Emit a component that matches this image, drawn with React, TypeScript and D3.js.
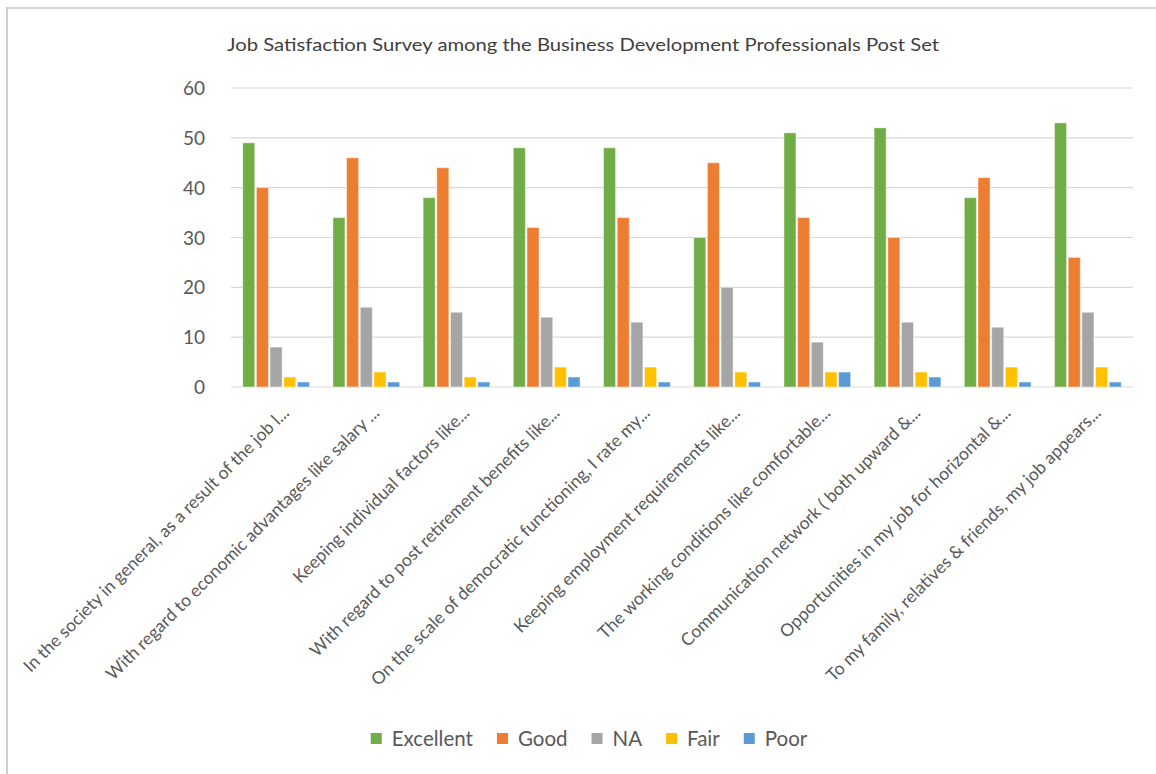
import React, { useEffect, useRef } from "react";
import * as d3 from "d3";

const categories = [
  "In the society in general, as a result of the job l...",
  "With regard to economic advantages like salary ...",
  "Keeping individual factors like...",
  "With regard to post retirement benefits like...",
  "On the scale of democratic functioning, I rate my...",
  "Keeping employment requirements like...",
  "The working conditions like comfortable...",
  "Communication network ( both upward &...",
  "Opportunities in my job for horizontal &...",
  "To my family, relatives & friends, my job appears...",
];
const seriesNames = ["Excellent", "Good", "NA", "Fair", "Poor"];
const seriesColors = ["#70AD47", "#ED7D31", "#A5A5A5", "#FFC000", "#5B9BD5"];
const excellent = [49, 34, 38, 48, 48, 30, 51, 52, 38, 53];
const good = [40, 46, 44, 32, 34, 45, 34, 30, 42, 26];
const na = [8, 16, 15, 14, 13, 20, 9, 13, 12, 15];
const fair = [2, 3, 2, 4, 4, 3, 3, 3, 4, 4];
const poor = [1, 1, 1, 2, 1, 1, 3, 2, 1, 1];
const yTicks = [0, 10, 20, 30, 40, 50, 60];
const title = "Job Satisfaction Survey among the Business Development Professionals Post Set";

const W = 1156;
const H = 774;

export default function App() {
  const ref = useRef<SVGSVGElement | null>(null);
  useEffect(() => {
    const svg = d3.select(ref.current);
    svg.selectAll("*").remove();
    const series = [excellent, good, na, fair, poor];
    const left = 231, right = 1133, top = 88, bottom = 387;
    const font = "Lato, 'Open Sans', sans-serif";

    // frame
    svg.append("rect").attr("width", W).attr("height", H).attr("fill", "#fff");
    svg.append("line").attr("x1", 6).attr("x2", W).attr("y1", 8).attr("y2", 8)
      .attr("stroke", "#d6d6d6").attr("stroke-width", 2);
    svg.append("line").attr("x1", 7).attr("x2", 7).attr("y1", 7).attr("y2", H)
      .attr("stroke", "#cfcfcf").attr("stroke-width", 2);

    // title
    svg.append("text").attr("x", 583).attr("y", 51).attr("text-anchor", "middle")
      .attr("font-family", font).attr("font-size", 17).attr("fill", "#404040")
      .attr("textLength", 712).attr("lengthAdjust", "spacingAndGlyphs")
      .text(title);

    const y = d3.scaleLinear().domain([0, 60]).range([bottom, top]);
    const x0 = d3.scaleBand<string>().domain(categories).range([left, right])
      .paddingInner(0.26).paddingOuter(0.13);
    const x1 = d3.scaleBand<number>().domain(d3.range(5)).range([0, x0.bandwidth()])
      .paddingInner(0.12);

    // grid
    svg.append("g").selectAll("line").data(yTicks).join("line")
      .attr("x1", left).attr("x2", right)
      .attr("y1", (d) => y(d)).attr("y2", (d) => y(d))
      .attr("stroke", "#d9d9d9").attr("stroke-width", 1.2);

    svg.append("g").selectAll("text").data(yTicks).join("text")
      .attr("x", 205).attr("y", (d) => y(d) + 7).attr("text-anchor", "end")
      .attr("font-family", font).attr("font-size", 19).attr("fill", "#595959")
      .text((d) => String(d));

    // bars
    const g = svg.append("g");
    categories.forEach((c, i) => {
      series.forEach((s, j) => {
        g.append("rect")
          .attr("x", (x0(c) as number) + (x1(j) as number))
          .attr("y", y(s[i]))
          .attr("width", x1.bandwidth())
          .attr("height", y(0) - y(s[i]))
          .attr("fill", seriesColors[j])
          .attr("stroke", "#ffffff").attr("stroke-opacity", 0.45).attr("stroke-width", 1);
      });
    });

    // x labels
    svg.append("g").selectAll("text").data(categories).join("text")
      .attr("transform", (d) => {
        const cx = (x0(d) as number) + x0.bandwidth() / 2 + 14;
        return `translate(${cx},414) rotate(-45)`;
      })
      .attr("text-anchor", "end")
      .attr("font-family", font).attr("font-size", 17.5).attr("fill", "#595959")
      .text((d) => d);

    // legend
    const lg = svg.append("g");
    let lx = 0;
    seriesNames.forEach((n, j) => {
      const item = lg.append("g");
      item.append("rect").attr("x", 0).attr("y", 733).attr("width", 11).attr("height", 11)
        .attr("fill", seriesColors[j]);
      const t = item.append("text").attr("x", 21).attr("y", 746)
        .attr("font-family", font).attr("font-size", 20.5).attr("fill", "#595959").text(n);
      const tw = (t.node() as SVGTextElement).getComputedTextLength();
      item.attr("transform", `translate(${lx},0)`);
      lx += 21 + tw + 24;
    });
    const totalW = lx - 24;
    lg.attr("transform", `translate(${589 - totalW / 2},0)`);
  }, []);

  return (
    <svg
      ref={ref}
      width={W}
      height={H}
      style={{ position: "absolute", left: 0, top: 0 }}
    />
  );
}
